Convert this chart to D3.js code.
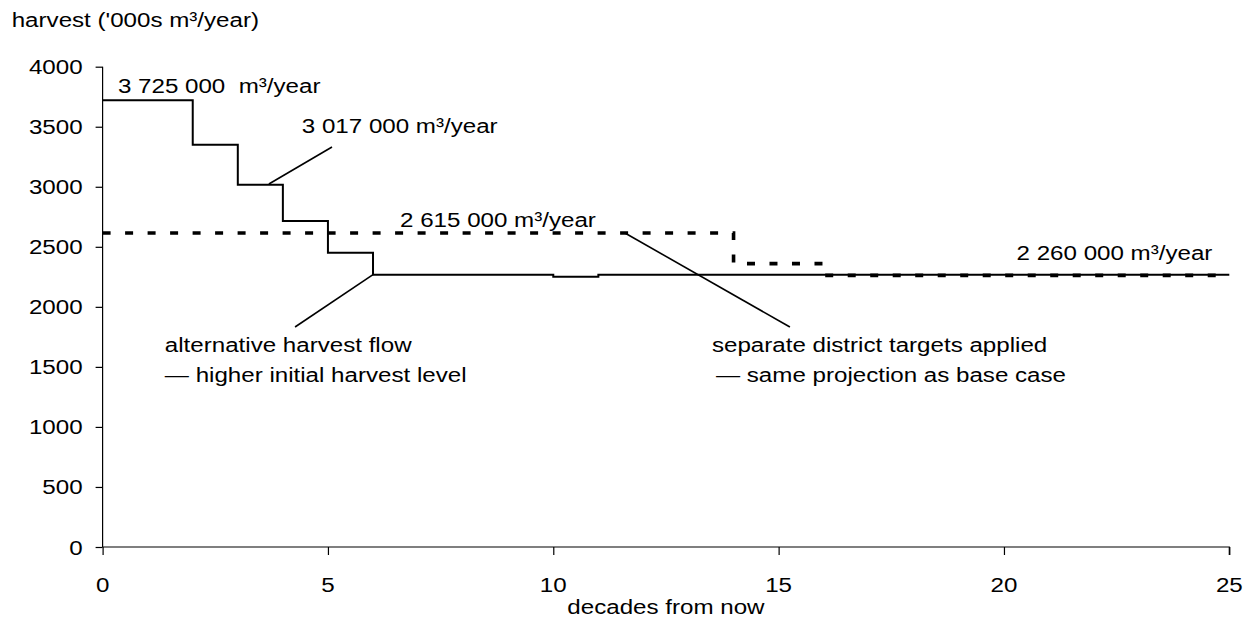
<!DOCTYPE html>
<html>
<head>
<meta charset="utf-8">
<script src="https://cdn.jsdelivr.net/npm/d3@7"></script>
<style>
  body { margin: 0; background: #fff; }
  text { font-family: "Liberation Sans", Arial, sans-serif; fill: #000; white-space: pre; }
</style>
</head>
<body>
<div id="chart"></div>
<script>
// harvest flow, '000s m3/year, step values start at each decade
var altDecades = [0, 2, 3, 4, 5, 6, 10, 11, 25];
var altHarvest = [3720, 3350, 3017, 2715, 2451, 2268, 2250, 2268, 2268];
var distDecades = [0, 14, 16, 25];
var distHarvest = [2615, 2360, 2262, 2262];
var xTicks = [0, 5, 10, 15, 20, 25];
var yTicks = [0, 500, 1000, 1500, 2000, 2500, 3000, 3500, 4000];

// labels, placed in data space (decade, value)
var labelText = ["3 725 000  m³/year", "3 017 000 m³/year", "2 615 000 m³/year", "2 260 000 m³/year",
  "alternative harvest flow", "— higher initial harvest level",
  "separate district targets applied", "— same projection as base case"];
var labelX = [0.34, 4.42, 6.6, 20.28, 1.38, 1.38, 13.52, 13.61];
var labelY = [3785, 3450, 2665, 2390, 1620, 1370, 1620, 1370];
// leader lines: [x1, v1, x2, v2]
var leaders = [[3.69, 3023, 5.09, 3331], [11.59, 2615, 15.25, 1832], [4.27, 1832, 6.0, 2268]];

var W = 1246, H = 638;
var mLeft = 102.6, mRight = 1229.3, mTop = 66.7, mBottom = 547;
var fs = 21, sx = 1.15;

var svg = d3.select("#chart").append("svg").attr("width", W).attr("height", H);

var x = d3.scaleLinear().domain([0, 25]).range([mLeft, mRight]);
var y = d3.scaleLinear().domain([0, 4000]).range([mBottom, mTop]);

/*y轴*/
var yAxis = d3.axisLeft(y).tickValues(yTicks).tickSize(7).tickPadding(0).tickFormat(d3.format("d"));
var gy = svg.append("g").attr("transform", "translate(" + mLeft + ",0)").call(yAxis);
/*x轴*/
var xAxis = d3.axisBottom(x).tickValues(xTicks).tickSize(8).tickPadding(0).tickFormat(d3.format("d"));
var gx = svg.append("g").attr("transform", "translate(0," + mBottom + ")").call(xAxis);

[gx, gy].forEach(function (g) {
  g.select(".domain").attr("stroke", "#000").attr("stroke-width", 1.2);
  g.selectAll(".tick line").attr("stroke", "#000").attr("stroke-width", 1.2);
  g.selectAll(".tick text").remove();
});
gx.select(".domain").attr("d", "M" + mLeft + ",0H" + mRight + "V8");
gy.select(".domain").attr("d", "M0," + mTop + "V" + mBottom);

function addText(px, py, str, anchor) {
  svg.append("text")
    .attr("transform", "translate(" + px + "," + py + ") scale(" + sx + ",1)")
    .attr("text-anchor", anchor || "start")
    .style("font-size", fs + "px")
    .text(str);
}

yTicks.forEach(function (t) { addText(x(0) - 20, y(t) + 7.5, t, "end"); });
xTicks.forEach(function (t) { addText(x(t), 591.5, t, "middle"); });
addText(11.7, 26.7, "harvest ('000s m³/year)");
addText(x(12.5), 614, "decades from now", "middle");

/*线*/
var line = d3.line().x(function (d) { return x(d[0]); }).y(function (d) { return y(d[1]); })
  .curve(d3.curveStepAfter);

svg.append("path")
  .attr("d", line(d3.zip(distDecades, distHarvest)))
  .attr("fill", "none").attr("stroke", "#000").attr("stroke-width", 3.6)
  .attr("stroke-dasharray", "8,14.5");

svg.append("path")
  .attr("d", line(d3.zip(altDecades, altHarvest)))
  .attr("fill", "none").attr("stroke", "#000").attr("stroke-width", 2);

leaders.forEach(function (l) {
  svg.append("line")
    .attr("x1", x(l[0])).attr("y1", y(l[1])).attr("x2", x(l[2])).attr("y2", y(l[3]))
    .attr("stroke", "#000").attr("stroke-width", 1.6);
});

labelText.forEach(function (t, i) { addText(x(labelX[i]), y(labelY[i]), t); });
</script>
</body>
</html>
